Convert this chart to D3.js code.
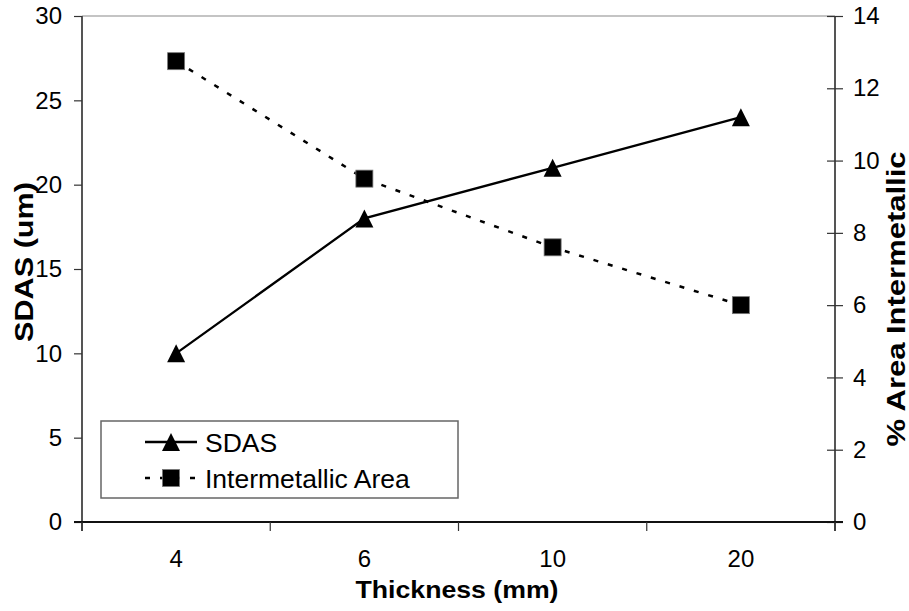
<!DOCTYPE html>
<html>
<head>
<meta charset="utf-8">
<script src="https://cdn.jsdelivr.net/npm/d3@7"></script>
<style>
  html, body { margin: 0; padding: 0; background: #fff; }
  svg { display: block; font-family: "Liberation Sans", Arial, sans-serif; }
</style>
</head>
<body>
<svg id="chart" width="909" height="611"></svg>
<script>
// Casting thickness categories and the two measured series
const thickness = ["4", "6", "10", "20"];
const sdas = [10, 18, 21, 24];                 // secondary dendrite arm spacing, um
const intermetallic = [12.75, 9.5, 7.6, 6.0];  // % area intermetallic
const leftTicks = [0, 5, 10, 15, 20, 25, 30];
const rightTicks = [0, 2, 4, 6, 8, 10, 12, 14];

const svg = d3.select("#chart");
const plot = { left: 82, right: 835, top: 16, bottom: 522 };

const x = d3.scaleBand().domain(thickness).range([plot.left, plot.right]).padding(0);
const yL = d3.scaleLinear().domain([0, 30]).range([plot.bottom, plot.top]);
const yR = d3.scaleLinear().domain([0, 14]).range([plot.bottom, plot.top]);
const cx = d => x(d) + x.bandwidth() / 2;

// plot frame: light top edge
svg.append("line")
  .attr("x1", plot.left).attr("x2", plot.right)
  .attr("y1", plot.top).attr("y2", plot.top)
  .attr("stroke", "#8a8a8a").attr("stroke-width", 1.2);

// left axis
const gL = svg.append("g").attr("transform", `translate(${plot.left},0)`)
  .call(d3.axisLeft(yL).tickValues(leftTicks).tickSize(8).tickPadding(12).tickFormat(d3.format("d")));
gL.select(".domain").attr("stroke", "#555").attr("stroke-width", 2)
  .attr("d", `M0,${plot.top}V${plot.bottom + 9}`);
gL.selectAll(".tick line").attr("stroke", "#333").attr("stroke-width", 1.2);
gL.selectAll(".tick text").attr("font-size", 24).attr("fill", "#000")
  .attr("font-family", "Liberation Sans, Arial, sans-serif");

// right axis: ticks cross the line
const gR = svg.append("g").attr("transform", `translate(${plot.right},0)`)
  .call(d3.axisRight(yR).tickValues(rightTicks).tickSize(8).tickPadding(10).tickFormat(d3.format("d")));
gR.select(".domain").attr("stroke", "#555").attr("stroke-width", 2)
  .attr("d", `M0,${plot.top}V${plot.bottom + 9}`);
gR.selectAll(".tick line").attr("stroke", "#333").attr("stroke-width", 1.2).attr("x1", -8);
gR.selectAll(".tick text").attr("font-size", 24).attr("fill", "#000")
  .attr("font-family", "Liberation Sans, Arial, sans-serif");

// bottom axis: labels centred on categories, ticks on category boundaries
const gB = svg.append("g").attr("transform", `translate(0,${plot.bottom})`)
  .call(d3.axisBottom(x).tickSize(0).tickPadding(28));
gB.select(".domain").attr("stroke", "#111").attr("stroke-width", 1.8)
  .attr("d", `M${plot.left - 8},0H${plot.right + 8}`);
gB.selectAll(".tick text").attr("font-size", 24).attr("fill", "#000")
  .attr("font-family", "Liberation Sans, Arial, sans-serif");
const bounds = thickness.map(d => x(d)).concat([x.range()[1]]);
gB.selectAll("line.boundary").data(bounds).enter().append("line")
  .attr("class", "boundary")
  .attr("x1", d => d).attr("x2", d => d).attr("y1", 0).attr("y2", 9)
  .attr("stroke", "#333").attr("stroke-width", 1.2);

// series lines
const lineL = d3.line().x((d, i) => cx(thickness[i])).y(d => yL(d));
const lineR = d3.line().x((d, i) => cx(thickness[i])).y(d => yR(d));

svg.append("path").datum(sdas).attr("d", lineL)
  .attr("fill", "none").attr("stroke", "#000").attr("stroke-width", 2.3);
svg.append("path").datum(intermetallic).attr("d", lineR)
  .attr("fill", "none").attr("stroke", "#000").attr("stroke-width", 2.5)
  .attr("stroke-dasharray", "5,10");

// markers
function triangle(g, px, py) {
  g.append("path").attr("d", `M${px},${py - 9}L${px + 9},${py + 9}L${px - 9},${py + 9}Z`)
    .attr("fill", "#000");
}
sdas.forEach((v, i) => triangle(svg, cx(thickness[i]), yL(v)));

svg.selectAll("rect.sq").data(intermetallic).enter().append("rect")
  .attr("class", "sq")
  .attr("x", (d, i) => cx(thickness[i]) - 8.5).attr("y", d => yR(d) - 8.5)
  .attr("width", 17).attr("height", 17)
  .attr("fill", "#000").attr("stroke", "#777").attr("stroke-width", 0.8);

// axis titles
svg.append("text").text("Thickness (mm)")
  .attr("x", 457).attr("y", 598).attr("text-anchor", "middle")
  .attr("font-weight", "bold").attr("font-size", 24).attr("textLength", 203)
  .attr("lengthAdjust", "spacingAndGlyphs");
svg.append("text").text("SDAS (um)")
  .attr("transform", "translate(33,262) rotate(-90)").attr("text-anchor", "middle")
  .attr("font-weight", "bold").attr("font-size", 25).attr("textLength", 160)
  .attr("lengthAdjust", "spacingAndGlyphs");
svg.append("text").text("% Area Intermetallic")
  .attr("transform", "translate(905,299) rotate(-90)").attr("text-anchor", "middle")
  .attr("font-weight", "bold").attr("font-size", 25).attr("textLength", 295)
  .attr("lengthAdjust", "spacingAndGlyphs");

// legend
const lg = svg.append("g");
lg.append("rect").attr("x", 101).attr("y", 421).attr("width", 357).attr("height", 77)
  .attr("fill", "#fff").attr("stroke", "#666").attr("stroke-width", 1.5);
const rows = [
  { name: "SDAS", y: 442, dash: null, mark: "tri" },
  { name: "Intermetallic Area", y: 478, dash: "5,10", mark: "sq" }
];
rows.forEach(r => {
  lg.append("line").attr("x1", 145).attr("x2", 197).attr("y1", r.y).attr("y2", r.y)
    .attr("stroke", "#000").attr("stroke-width", r.dash ? 2.5 : 2.3)
    .attr("stroke-dasharray", r.dash);
  if (r.mark === "tri") triangle(lg, 171, r.y);
  else lg.append("rect").attr("x", 162.5).attr("y", r.y - 8.5).attr("width", 17).attr("height", 17)
    .attr("fill", "#000").attr("stroke", "#777").attr("stroke-width", 0.8);
  lg.append("text").text(r.name).attr("x", 205).attr("y", r.y + 9.5)
    .attr("font-size", 26.5).attr("fill", "#000");
});
</script>
</body>
</html>
